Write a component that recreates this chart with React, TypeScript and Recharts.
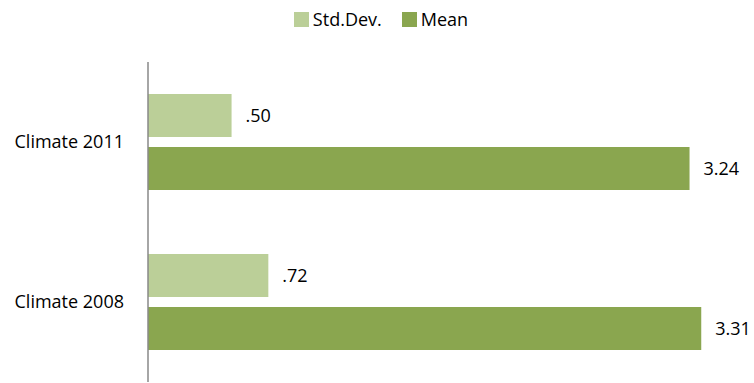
import React from "react";
import { BarChart, Bar, XAxis, YAxis, Legend, LabelList } from "recharts";

const categories = ["Climate 2011", "Climate 2008"];
const stdDevValues = [0.5, 0.72];
const meanValues = [3.24, 3.31];
const seriesNames = ["Std.Dev.", "Mean"];
const seriesColors = ["#BBCF98", "#8AA64F"];

const data = categories.map((c, i) => ({
  name: c,
  std: stdDevValues[i],
  mean: meanValues[i],
}));

const FONT = "'Open Sans', sans-serif";

const fmt = (v: number) => {
  const s = v.toFixed(2);
  return s.startsWith("0") ? s.slice(1) : s;
};

const renderLegend = () => (
  <div
    style={{
      display: "flex",
      justifyContent: "center",
      alignItems: "center",
      fontFamily: FONT,
      fontSize: 18,
      color: "#000",
      height: 30,
      paddingLeft: 8,
    }}
  >
    {seriesNames.map((n, i) => (
      <div key={n} style={{ display: "flex", alignItems: "center", marginRight: i === 0 ? 20 : 0 }}>
        <span style={{ display: "inline-block", width: 15, height: 15, background: seriesColors[i], marginRight: 4 }} />
        <span>{n}</span>
      </div>
    ))}
  </div>
);

export default function App() {
  return (
    <div style={{ position: "absolute", left: 0, top: 0, background: "#fff" }}>
      <BarChart
        width={754}
        height={383}
        data={data}
        layout="vertical"
        margin={{ top: 32, right: 21, bottom: 1, left: 0 }}
        barCategoryGap="20%"
        barGap={10}
      >
        <Legend verticalAlign="top" height={30} wrapperStyle={{ top: 4, left: 0, width: 754 }} content={renderLegend} />
        <XAxis type="number" domain={[0, 3.5]} hide />
        <YAxis
          type="category"
          dataKey="name"
          width={148}
          tickLine={false}
          tickSize={0}
          tickMargin={24}
          axisLine={{ stroke: "#888888", strokeWidth: 1.5 }}
          tick={{ fill: "#000", fontSize: 18, fontFamily: FONT }}
        />
        <Bar dataKey="std" name={seriesNames[0]} fill={seriesColors[0]} isAnimationActive={false}>
          <LabelList dataKey="std" position="right" offset={14} formatter={fmt} style={{ fill: "#000", fontSize: 18, fontFamily: FONT }} />
        </Bar>
        <Bar dataKey="mean" name={seriesNames[1]} fill={seriesColors[1]} isAnimationActive={false}>
          <LabelList dataKey="mean" position="right" offset={14} formatter={fmt} style={{ fill: "#000", fontSize: 18, fontFamily: FONT }} />
        </Bar>
      </BarChart>
    </div>
  );
}
